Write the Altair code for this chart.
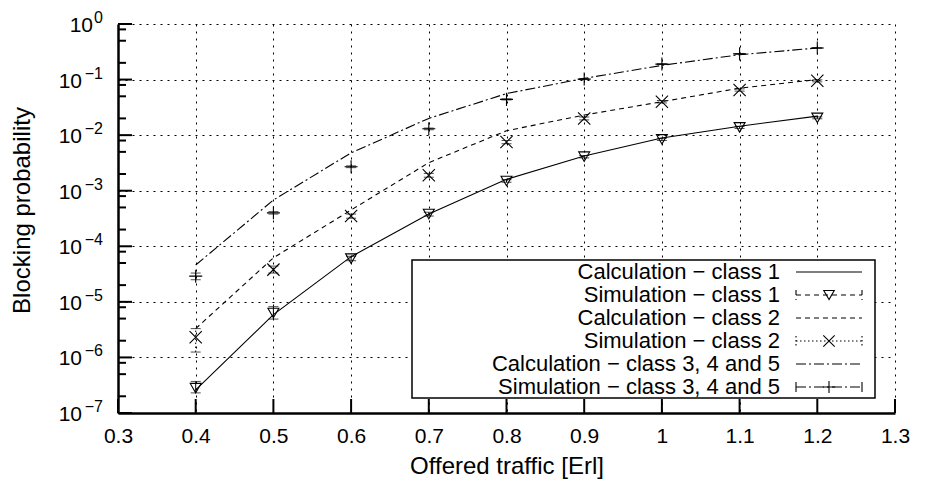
import altair as alt
import pandas as pd

# ---------------- data ----------------
offered = [0.4, 0.5, 0.6, 0.7, 0.8, 0.9, 1.0, 1.1, 1.2]

calc_c1 = [2.6e-7, 5.9e-6, 6.5e-5, 3.8e-4, 1.6e-3, 4.2e-3, 8.9e-3, 1.45e-2, 2.2e-2]
sim_c1 = [2.8e-7, 6.3e-6, 6.0e-5, 3.8e-4, 1.5e-3, 4.1e-3, 8.4e-3, 1.38e-2, 2.05e-2]
sim_c1_lo = [2.3e-7, 4.9e-6, 5.5e-5, 3.5e-4, 1.42e-3, 3.9e-3, 8.0e-3, 1.32e-2, 1.97e-2]
sim_c1_hi = [3.7e-7, 8.2e-6, 6.6e-5, 4.1e-4, 1.58e-3, 4.3e-3, 8.8e-3, 1.44e-2, 2.13e-2]

calc_c2 = [3.3e-6, 6.2e-5, 4.5e-4, 3.2e-3, 1.2e-2, 2.3e-2, 4.0e-2, 7.0e-2, 1.0e-1]
sim_c2 = [2.3e-6, 3.8e-5, 3.5e-4, 1.9e-3, 7.5e-3, 2.0e-2, 4.0e-2, 6.5e-2, 9.5e-2]
sim_c2_lo = [1.25e-6, 3.3e-5, 3.2e-4, 1.75e-3, 7.0e-3, 1.88e-2, 3.8e-2, 6.2e-2, 9.1e-2]
sim_c2_hi = [3.3e-6, 4.4e-5, 3.8e-4, 2.05e-3, 8.0e-3, 2.12e-2, 4.2e-2, 6.8e-2, 9.9e-2]

calc_c3 = [4.6e-5, 6.8e-4, 4.8e-3, 2.0e-2, 5.6e-2, 1.05e-1, 1.8e-1, 2.8e-1, 3.7e-1]
sim_c3 = [2.9e-5, 4.0e-4, 2.7e-3, 1.3e-2, 4.4e-2, 1.02e-1, 1.9e-1, 2.9e-1, 3.7e-1]
sim_c3_lo = [2.5e-5, 3.8e-4, 2.6e-3, 1.25e-2, 4.3e-2, 1.0e-1, 1.87e-1, 2.86e-1, 3.65e-1]
sim_c3_hi = [3.3e-5, 4.2e-4, 2.8e-3, 1.34e-2, 4.5e-2, 1.04e-1, 1.93e-1, 2.94e-1, 3.75e-1]

legend_labels = [
    "Calculation \u2212 class 1",
    "Simulation \u2212 class 1",
    "Calculation \u2212 class 2",
    "Simulation \u2212 class 2",
    "Calculation \u2212 class 3, 4 and 5",
    "Simulation \u2212 class 3, 4 and 5",
]

x_ticks = [0.3, 0.4, 0.5, 0.6, 0.7, 0.8, 0.9, 1.0, 1.1, 1.2, 1.3]
y_decades = [1, 1e-1, 1e-2, 1e-3, 1e-4, 1e-5, 1e-6, 1e-7]
y_exp_labels = ["0", "\u22121", "\u22122", "\u22123", "\u22124", "\u22125", "\u22126", "\u22127"]
minor_mantissa = [2, 5, 8]
minor_ticks = [m * d for d in y_decades[1:] for m in minor_mantissa]

# ---------------- style ----------------
W, H = 777, 389
FONT = "Liberation Sans"
BLACK = "#000000"
DASH = [5, 4]
DOT = [1.5, 2.5]
DASHDOT = [10, 3, 2, 3]

xs = alt.Scale(domain=[0.3, 1.3], nice=False, zero=False)
ys = alt.Scale(type="log", domain=[1e-7, 1], nice=False)

x_axis = alt.Axis(
    values=x_ticks, format=".1~f", grid=True, gridDash=[2, 5], gridColor=BLACK,
    gridWidth=1, gridOpacity=1, domainColor=BLACK, domainWidth=2.5, ticks=False,
    tickSize=0, labelFont=FONT, labelFontSize=21, labelColor=BLACK, labelPadding=12,
    labelFlush=False, labelOverlap=False,
    title="Offered traffic [Erl]", titleFont=FONT, titleFontSize=24,
    titleFontWeight="normal", titleColor=BLACK, titlePadding=8,
)
y_axis = alt.Axis(
    values=y_decades, grid=True, gridDash=[2, 5], gridColor=BLACK, gridWidth=1,
    gridOpacity=1, domainColor=BLACK, domainWidth=2.5, ticks=False, tickSize=0,
    labels=False, title="Blocking probability", titleFont=FONT, titleFontSize=24,
    titleFontWeight="normal", titleColor=BLACK, titlePadding=84, titleY=186,
)

X = lambda f: alt.X(f, type="quantitative", scale=xs, axis=x_axis)
Y = lambda f: alt.Y(f, type="quantitative", scale=ys, axis=y_axis)

calc_df = pd.DataFrame({"x": offered, "c1": calc_c1, "c2": calc_c2, "c3": calc_c3})
sim_dfs = [
    pd.DataFrame({"x": offered, "y": sim_c1, "lo": sim_c1_lo, "hi": sim_c1_hi}),
    pd.DataFrame({"x": offered, "y": sim_c2, "lo": sim_c2_lo, "hi": sim_c2_hi}),
    pd.DataFrame({"x": offered, "y": sim_c3, "lo": sim_c3_lo, "hi": sim_c3_hi}),
]

layers = []

# ---------- axis decorations: inward ticks ----------
xt = pd.DataFrame({"x": x_ticks})
layers.append(alt.Chart(xt).mark_rule(color=BLACK, strokeWidth=2).encode(
    x=X("x"), y=alt.value(H), y2=alt.value(H - 14)))
yt = pd.DataFrame({"y": y_decades})
layers.append(alt.Chart(yt).mark_rule(color=BLACK, strokeWidth=2).encode(
    y=Y("y"), x=alt.value(0), x2=alt.value(14)))
ym = pd.DataFrame({"y": minor_ticks})
layers.append(alt.Chart(ym).mark_rule(color=BLACK, strokeWidth=2).encode(
    y=Y("y"), x=alt.value(0), x2=alt.value(8)))

# ---------- y tick labels (10 with superscript exponents) ----------
ylab = pd.DataFrame({"y": y_decades, "exp": y_exp_labels})
layers.append(alt.Chart(ylab.iloc[:1]).mark_text(
    text="10", align="right", baseline="middle", font=FONT, fontSize=21, color=BLACK, dy=2
).encode(x=alt.value(-25), y=Y("y")))
layers.append(alt.Chart(ylab.iloc[1:]).mark_text(
    text="10", align="right", baseline="middle", font=FONT, fontSize=21, color=BLACK, dy=2
).encode(x=alt.value(-36), y=Y("y")))
layers.append(alt.Chart(ylab).mark_text(
    align="right", baseline="middle", font=FONT, fontSize=16, color=BLACK, dy=-6
).encode(x=alt.value(-15), y=Y("y"), text="exp:N"))

# ---------- calculation lines ----------
for col, dash in [("c1", None), ("c2", DASH), ("c3", DASHDOT)]:
    kw = dict(color=BLACK, strokeWidth=1.1)
    if dash:
        kw["strokeDash"] = dash
    layers.append(alt.Chart(calc_df).mark_line(**kw).encode(x=X("x"), y=Y(col)))

# ---------- simulation: error bars + markers ----------
TRI = "triangle-down"
XSHAPE = "M-1,-1L1,1M-1,1L1,-1"
PLUS = "M-1,0L1,0M0,-1L0,1"
sim_styles = [(TRI, 120, None), (XSHAPE, 150, DOT), (PLUS, 170, None)]
for df, (shape, size, dash) in zip(sim_dfs, sim_styles):
    kw = dict(color=BLACK, strokeWidth=1)
    if dash:
        kw["strokeDash"] = dash
    layers.append(alt.Chart(df).mark_rule(**kw).encode(x=X("x"), y=Y("lo"), y2="hi"))
    layers.append(alt.Chart(df).mark_tick(orient="horizontal", size=10, thickness=1, **kw).encode(x=X("x"), y=Y("lo")))
    layers.append(alt.Chart(df).mark_tick(orient="horizontal", size=10, thickness=1, **kw).encode(x=X("x"), y=Y("hi")))
    layers.append(alt.Chart(df).mark_point(
        shape=shape, size=size, filled=False, stroke=BLACK, strokeWidth=1.1, opacity=1
    ).encode(x=X("x"), y=Y("y")))

# ---------- legend ----------
LX0, LX1, LY0, LY1 = 294, 757, 236, 374
TX, SX0, SX1 = 662, 678, 744
SXC = (SX0 + SX1) / 2
rows = [248, 271, 294, 317, 340, 363]
one = pd.DataFrame({"k": [0]})

layers.append(alt.Chart(one).mark_rect(fill="white", stroke=BLACK, strokeWidth=1.5).encode(
    x=alt.value(LX0), x2=alt.value(LX1), y=alt.value(LY0), y2=alt.value(LY1)))

for i, lab in enumerate(legend_labels):
    layers.append(alt.Chart(one).mark_text(
        text=lab, align="right", baseline="middle", font=FONT, fontSize=22, color=BLACK
    ).encode(x=alt.value(TX), y=alt.value(rows[i])))

sample_styles = [
    (None, None, None),
    (DASH, TRI, 110),
    (DASH, None, None),
    (DOT, XSHAPE, 130),
    (DASHDOT, None, None),
    (DASHDOT, PLUS, 150),
]
for i, (dash, shape, size) in enumerate(sample_styles):
    ry = rows[i]
    kw = dict(color=BLACK, strokeWidth=1.1)
    if dash:
        kw["strokeDash"] = dash
    layers.append(alt.Chart(one).mark_rule(**kw).encode(
        x=alt.value(SX0), x2=alt.value(SX1), y=alt.value(ry), y2=alt.value(ry)))
    if shape:
        for cx in (SX0, SX1):
            layers.append(alt.Chart(one).mark_rule(**kw).encode(
                x=alt.value(cx), x2=alt.value(cx), y=alt.value(ry - 5), y2=alt.value(ry + 5)))
        layers.append(alt.Chart(one).mark_point(
            shape=shape, size=size, filled=False, stroke=BLACK, strokeWidth=1.1, opacity=1
        ).encode(x=alt.value(SXC), y=alt.value(ry)))

chart = alt.layer(*layers).properties(
    width=W, height=H,
    autosize=alt.AutoSizeParams(type="none"),
    padding={"left": 118, "top": 24, "right": 35, "bottom": 75},
    background="white",
).configure_view(stroke=None)

chart.save("out.html", embed_options={"renderer": "svg", "actions": False})
